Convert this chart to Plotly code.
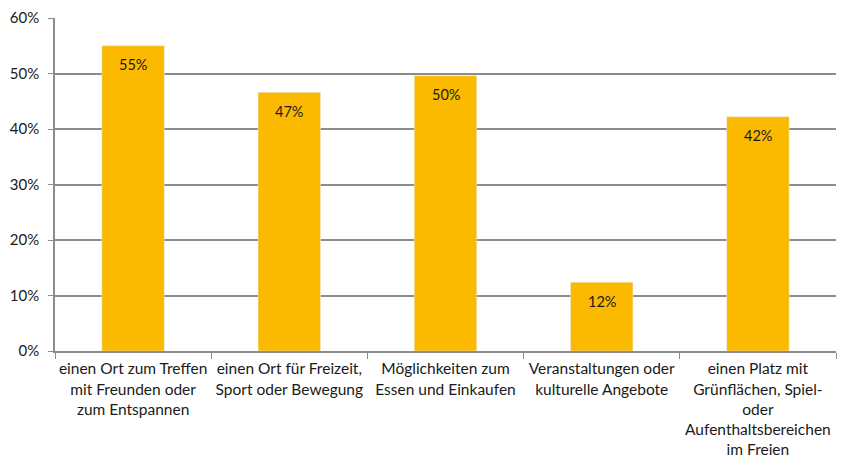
import plotly.graph_objects as go

categories = [
    "einen Ort zum Treffen<br>mit Freunden oder<br>zum Entspannen",
    "einen Ort für Freizeit,<br>Sport oder Bewegung",
    "Möglichkeiten zum<br>Essen und Einkaufen",
    "Veranstaltungen oder<br>kulturelle Angebote",
    "einen Platz mit<br>Grünflächen, Spiel-<br>oder<br>Aufenthaltsbereichen<br>im Freien",
]
values = [55.0, 46.6, 49.6, 12.4, 42.2]
y_ticks = [0, 10, 20, 30, 40, 50, 60]
y_tick_labels = [f"{v}%" for v in y_ticks]

fig = go.Figure(go.Bar(
    x=categories,
    y=values,
    marker_color="#FBB900",
    width=0.4,
    hoverinfo="skip",
))

# value labels a little below the top of each bar
for cat, val in zip(categories, values):
    fig.add_annotation(
        x=cat, y=val, text=f"{val:.0f}%", showarrow=False,
        yshift=-19, font=dict(size=14.5, color="#1a1a1a"),
    )

# page has an 8px body margin, so the figure is a bit smaller than the window
fig.update_layout(
    width=847, height=467,
    margin=dict(l=47, r=19, t=10, b=124),
    plot_bgcolor="white",
    paper_bgcolor="white",
    font=dict(family="Lato, Open Sans, sans-serif", size=15, color="#1a1a1a"),
    showlegend=False,
)
fig.update_xaxes(
    automargin=False, tickangle=0,
    showline=True, linecolor="#8c8c8c", linewidth=1.5,
    ticks="outside", tickson="boundaries", ticklen=6, tickcolor="#8c8c8c",
    tickfont=dict(size=15.5), ticklabelstandoff=3,
)
fig.update_yaxes(
    automargin=False,
    range=[0, 60], tickvals=y_ticks, ticktext=y_tick_labels,
    showgrid=True, gridcolor="#8c8c8c", gridwidth=1.5,
    showline=True, linecolor="#8c8c8c", linewidth=1.5,
    ticks="outside", ticklen=5, tickcolor="#8c8c8c",
    tickfont=dict(size=15), ticklabelstandoff=6, zeroline=False,
)

fig.write_html("out.html")
